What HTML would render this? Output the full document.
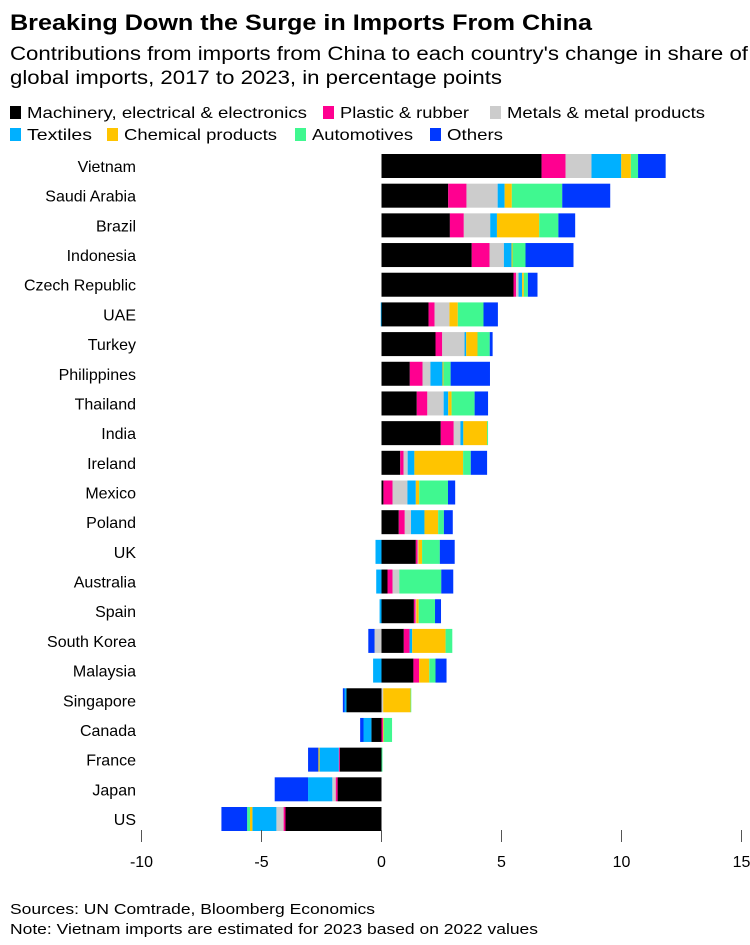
<!DOCTYPE html>
<html><head><meta charset="utf-8"><style>
html,body{margin:0;padding:0;background:#fff;}
svg{display:block;font-family:"Liberation Sans",Arial,sans-serif;}
</style></head><body>
<svg id="chart" width="750" height="945" viewBox="0 0 750 945" xmlns="http://www.w3.org/2000/svg">
<text x="10" y="30" font-size="22" font-weight="bold" textLength="582" lengthAdjust="spacingAndGlyphs">Breaking Down the Surge in Imports From China</text>
<text x="10" y="60" font-size="19" textLength="738" lengthAdjust="spacingAndGlyphs">Contributions from imports from China to each country's change in share of</text>
<text x="10" y="84" font-size="19" textLength="492" lengthAdjust="spacingAndGlyphs">global imports, 2017 to 2023, in percentage points</text>
<g id="legend"></g>
<g id="labels"></g>
<g id="bars"></g>
<g id="axis"></g>
<text x="10" y="914" font-size="15" textLength="365" lengthAdjust="spacingAndGlyphs">Sources: UN Comtrade, Bloomberg Economics</text>
<text x="10" y="934" font-size="15" textLength="528" lengthAdjust="spacingAndGlyphs">Note: Vietnam imports are estimated for 2023 based on 2022 values</text>
</svg>
<script>
const countries = ["Vietnam","Saudi Arabia","Brazil","Indonesia","Czech Republic","UAE","Turkey","Philippines","Thailand","India","Ireland","Mexico","Poland","UK","Australia","Spain","South Korea","Malaysia","Singapore","Canada","France","Japan","US"];
const seriesNames = ["Machinery, electrical & electronics","Plastic & rubber","Metals & metal products","Textiles","Chemical products","Automotives","Others"];
const seriesColors = ["#000000","#ff0090","#cccccc","#00b0ff","#ffc400","#40f890","#0038ff"];
const machinery = [6.67,2.78,2.85,3.76,5.5,1.96,2.25,1.18,1.47,2.47,0.78,0.08,0.72,1.43,0.25,1.35,0.93,1.33,-1.46,-0.42,-1.74,-1.83,-4.0];
const plastic = [1.0,0.76,0.58,0.74,0.11,0.25,0.28,0.53,0.44,0.54,0.14,0.38,0.25,0.07,0.21,0.07,0.24,0.24,0,0.06,-0.04,-0.08,-0.08];
const metals = [1.08,1.3,1.1,0.6,0.1,0.62,0.93,0.33,0.68,0.28,0.17,0.62,0.26,0.04,0.28,0.03,-0.29,0,0.07,0,0,-0.14,-0.3];
const textiles = [1.24,0.29,0.28,0.32,0.15,-0.03,0.07,0.5,0.19,0.12,0.28,0.35,0.56,-0.25,-0.22,-0.08,0.11,-0.35,-0.08,-0.33,-0.8,-1.01,-1.0];
const chemical = [0.4,0.3,1.76,0.04,0.07,0.35,0.47,0.04,0.14,0.99,2.03,0.14,0.57,0.15,0,0.1,1.39,0.42,1.14,0.03,-0.05,0,-0.1];
const automotives = [0.3,2.1,0.8,0.54,0.17,1.07,0.51,0.3,0.96,0.04,0.32,1.2,0.24,0.74,1.75,0.68,0.28,0.26,0.03,0.35,0.04,0,-0.12];
const others = [1.15,2.0,0.7,2.0,0.4,0.6,0.12,1.64,0.56,0,0.68,0.3,0.37,0.62,0.5,0.25,-0.26,0.46,-0.07,-0.14,-0.43,-1.39,-1.07];
const tickValues = [-10,-5,0,5,10,15];
const tickLabels = ["-10","-5","0","5","10","15"];
const series = [machinery,plastic,metals,textiles,chemical,automotives,others];

const NS="http://www.w3.org/2000/svg";
const x0=381.5, pxPerUnit=24, firstRow=166, rowStep=(819-166)/22, barH=24;
function xScale(v){return x0+v*pxPerUnit;}
function yScale(i){return firstRow+i*rowStep;}
function mk(tag,attrs,parent){const e=document.createElementNS(NS,tag);for(const k in attrs)e.setAttribute(k,attrs[k]);parent.appendChild(e);return e;}

// legend
const legend=document.getElementById('legend');
const legPos=[[10,112,280],[323,112,129],[490,112,198],[10,134,65],[107,134,153],[295,134,101],[430,134,56]];
seriesNames.forEach((n,i)=>{
  const g=mk('g',{},legend);
  
  
  const p=legPos[i];
  mk('rect',{x:p[0],y:p[1]-6,width:11,height:13,fill:seriesColors[i]},g);
  const t=mk('text',{x:p[0]+17,y:p[1]+6,'font-size':16,textLength:p[2],lengthAdjust:'spacingAndGlyphs'},g);
  t.textContent=n;
});

// labels & bars
const labels=document.getElementById('labels');
const bars=document.getElementById('bars');
countries.forEach((c,i)=>{
  const y=yScale(i);
  const t=mk('text',{x:136,y:y+6,'font-size':16,'text-anchor':'end'},labels);
  
  
  t.textContent=c;
  let pos=0,neg=0;
  series.forEach((s,k)=>{
    const v=s[i];
    if(!v)return;
    let a,b;
    if(v>0){a=pos;b=pos+v;pos=b;}else{b=neg;a=neg+v;neg=a;}
    const r=mk('rect',{x:xScale(a),y:y-barH/2,width:xScale(b)-xScale(a),height:barH,fill:seriesColors[k]},bars);
    
    
  });
});

// axis
const axis=document.getElementById('axis');
tickValues.forEach((v,i)=>{
  const x=xScale(v);
  const l=mk('line',{x1:x,x2:x,y1:830,y2:842,stroke:'#555','stroke-width':1},axis);
  
  
  const t=mk('text',{x:x,y:867,'font-size':16,'text-anchor':'middle'},axis);
  
  
  t.textContent=tickLabels[i];
});
</script>
</body></html>
